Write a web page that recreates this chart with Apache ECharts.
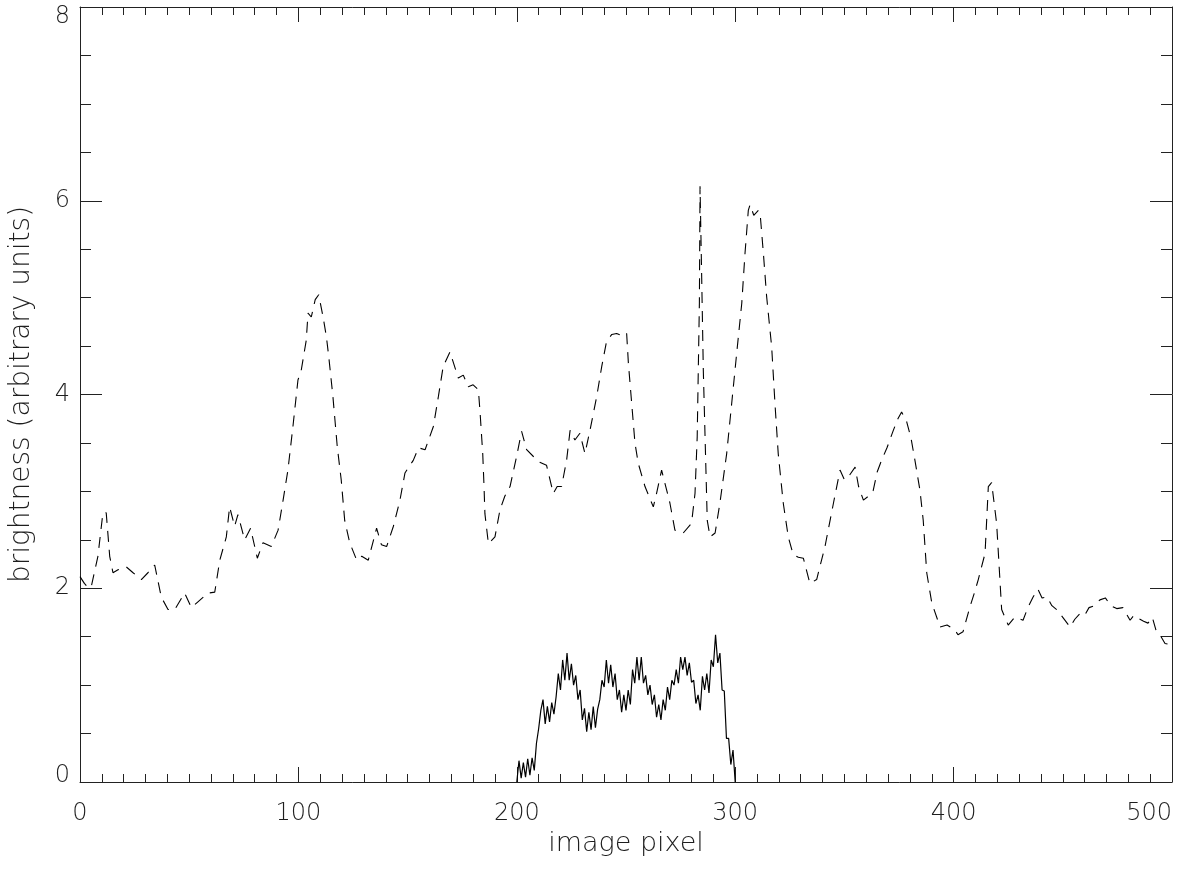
<!DOCTYPE html>
<html>
<head>
<meta charset="utf-8">
<script src="https://cdn.jsdelivr.net/npm/echarts@6/dist/echarts.min.js"></script>
<style>html,body{margin:0;padding:0;background:#fff;}#chart{width:1200px;height:869px;}</style>
</head>
<body>
<div id="chart"></div>
<script>
// Dashed profile (image pixel, brightness)
var dashX = [0,2,4,5.2,8.2,10.5,12,13.6,15.1,17.4,21.2,24.3,28.1,31.1,34.2,37.2,40.3,43.4,47.9,51,54,58.6,61.7,64,67,68.5,70.8,72.3,75.4,78.1,81.2,83.8,87.6,90.7,93,95.2,97.5,99.8,101.3,103.6,104.4,105.9,107.7,109.3,111.3,112.8,113.9,115.8,117.8,119.6,121.2,123.5,126.7,129,132,135.8,138,140.4,143.5,146.5,148.8,150.5,152.6,155,158,161.8,164.1,166.3,169.4,173.2,175.5,177.8,180,182.4,183.2,184.4,185,185.4,187,190,192.3,194.5,196.9,199.9,202.2,204.5,207.6,210.5,213.6,216.7,218.5,220.5,222.8,224.4,226.6,228.9,231.2,233.5,236.6,238.9,241.1,243.5,245.7,248.7,250.3,251.1,252.6,254.1,255.6,258.7,262.5,264,266.3,270.1,272.4,276.2,280,281.6,282.6,283.1,283.6,283.9,284.6,285.4,286.6,287.2,288.5,290.8,293,296.1,298.4,300.7,303,304.5,306,306.8,308.5,310.6,311.4,312.9,314.4,316.7,318.2,319.7,322,324.3,326.5,328.9,331.2,334.2,337.3,341.1,345,348,350,351.8,354.9,356.5,358.7,361,363.2,365,367,369.5,372.4,374.5,376.2,378.5,380.5,382.3,384.6,386.1,387.7,390,393.8,397,400.6,402,404.3,407.5,409.5,411.3,414.4,415.9,417.4,419.7,421.2,422,425,428,431.8,434,436.4,438.6,440.5,442.8,445,447.2,450,453.3,455.5,457.9,460,462,464.5,467,469.5,472,474.7,477.5,480.8,482.5,484.4,487,489,491,493,495,496.8,499];
var dashY = [2.12,2.05,2.0,2.02,2.33,2.78,2.78,2.33,2.16,2.19,2.22,2.16,2.09,2.16,2.24,1.91,1.78,1.78,1.95,1.8,1.86,1.95,1.96,2.29,2.53,2.84,2.64,2.76,2.5,2.62,2.31,2.47,2.43,2.6,2.91,3.22,3.67,4.15,4.25,4.56,4.84,4.8,4.98,5.03,4.8,4.6,4.39,3.98,3.46,3.12,2.7,2.47,2.29,2.33,2.29,2.62,2.45,2.43,2.64,2.91,3.19,3.25,3.32,3.45,3.43,3.67,3.98,4.29,4.44,4.17,4.2,4.08,4.1,4.05,3.81,3.39,3.05,2.77,2.46,2.53,2.81,2.95,3.05,3.36,3.62,3.43,3.36,3.3,3.27,2.98,3.05,3.05,3.32,3.63,3.53,3.6,3.39,3.63,3.98,4.29,4.55,4.62,4.63,4.6,4.63,4.32,3.91,3.5,3.29,3.05,2.84,2.98,3.22,2.88,2.6,2.57,2.67,2.98,3.56,4.25,4.94,6.15,5.28,4.25,3.22,2.7,2.53,2.57,2.88,3.39,3.91,4.43,4.94,5.46,5.9,5.96,5.85,5.9,5.87,5.46,5.01,4.49,3.91,3.39,2.88,2.53,2.35,2.32,2.31,2.05,2.09,2.43,2.88,3.22,3.12,3.15,3.25,3.05,2.91,2.95,3.01,3.2,3.32,3.45,3.63,3.75,3.82,3.72,3.55,3.32,3.01,2.7,2.16,1.85,1.6,1.62,1.57,1.52,1.55,1.81,1.95,2.09,2.36,3.05,3.09,2.67,2.09,1.78,1.62,1.7,1.67,1.8,1.91,1.99,1.9,1.91,1.82,1.78,1.7,1.6,1.68,1.74,1.72,1.8,1.82,1.88,1.9,1.82,1.79,1.8,1.67,1.72,1.69,1.66,1.64,1.7,1.54,1.5,1.43,1.42];

// Solid profile (image pixels 200..300)
var solidX = [200,201,202,203,204,205,206,207,208,209,210,211,212,213,214,215,216,217,218,219,220,221,222,223,224,225,226,227,228,229,230,231,232,233,234,235,236,237,238,239,240,241,242,243,244,245,246,247,248,249,250,251,252,253,254,255,256,257,258,259,260,261,262,263,264,265,266,267,268,269,270,271,272,273,274,275,276,277,278,279,280,281,282,283,284,285,286,287,288,289,290,291,292,293,294,295,296,297,298,299,300];
var solidY = [0.0,0.22,0.04,0.2,0.05,0.24,0.07,0.25,0.12,0.4,0.55,0.74,0.85,0.6,0.78,0.62,0.82,0.7,0.88,1.12,0.95,1.26,1.05,1.33,1.05,1.22,1.0,1.1,0.85,0.95,0.64,0.76,0.52,0.72,0.54,0.78,0.56,0.75,0.85,1.05,0.98,1.26,1.02,1.21,0.98,1.12,0.85,0.95,0.72,0.9,0.74,0.95,0.8,1.16,1.02,1.29,1.05,1.29,1.02,1.1,0.9,1.0,0.8,0.9,0.67,0.8,0.64,0.85,0.74,0.98,0.85,1.05,1.0,1.16,1.02,1.29,1.16,1.29,1.1,1.23,1.03,1.05,0.81,0.9,0.74,1.09,0.95,1.12,0.92,1.26,1.19,1.52,1.23,1.33,0.95,0.94,0.45,0.45,0.18,0.33,0.0];

var xTitle = 'image pixel';
var yTitle = 'brightness (arbitrary units)';

function pairs(xs, ys) { return xs.map(function (x, i) { return [x, ys[i]]; }); }

var axisColor = '#222';
var textColor = '#1e1e1e';
var font = 'DejaVu Sans';
var chart = echarts.init(document.getElementById('chart'), null, {renderer: 'canvas'});

function xAx(pos, showLabel) {
  return {
    type: 'value', position: pos, min: 0, max: 500, interval: 100,
    name: showLabel ? xTitle : '', nameLocation: 'middle', nameGap: 47,
    nameTextStyle: {fontFamily: font, fontSize: 27, fontWeight: 200, color: textColor},
    axisLine: {show: true, onZero: false, lineStyle: {color: axisColor, width: 1}},
    axisTick: {show: true, inside: true, length: 15, lineStyle: {color: axisColor}},
    minorTick: {show: true, splitNumber: 10, length: 8, lineStyle: {color: axisColor}},
    splitLine: {show: false}, minorSplitLine: {show: false},
    axisLabel: {show: showLabel, margin: 20, fontFamily: font, fontSize: 24, fontWeight: 200, color: textColor,
      alignMaxLabel: 'right'}
  };
}
function yAx(pos, showLabel) {
  var rs = {fontFamily: font, fontSize: 24, fontWeight: 200, color: textColor};
  return {
    type: 'value', position: pos, min: 0, max: 8, interval: 2,
    name: showLabel ? yTitle : '', nameLocation: 'middle', nameGap: 44, nameRotate: 90,
    nameTextStyle: {fontFamily: font, fontSize: 28, fontWeight: 200, color: textColor},
    axisLine: {show: true, onZero: false, lineStyle: {color: axisColor, width: 1}},
    axisTick: {show: true, inside: true, length: 22, lineStyle: {color: axisColor}},
    minorTick: {show: true, splitNumber: 4, length: 11, lineStyle: {color: axisColor}},
    splitLine: {show: false}, minorSplitLine: {show: false},
    axisLabel: {show: showLabel, margin: 10, fontFamily: font, fontSize: 24, fontWeight: 200, color: textColor,
      verticalAlignMinLabel: 'bottom', verticalAlignMaxLabel: 'top',
      formatter: function (v) { return v === 0 ? '{lo|0}' : (v === 8 ? '{hi|8}' : String(v)); },
      rich: {
        lo: Object.assign({lineHeight: 12}, rs),
        hi: Object.assign({lineHeight: 20}, rs)
      }}
  };
}

chart.setOption({
  backgroundColor: '#ffffff',
  animation: false,
  grid: {left: 80, right: 28, top: 7, bottom: 87, containLabel: false, outerBoundsMode: 'none'},
  xAxis: [xAx('bottom', true), xAx('top', false)],
  yAxis: [yAx('left', true), yAx('right', false)],
  series: [
    {type: 'line', xAxisIndex: 0, yAxisIndex: 0, data: pairs(dashX, dashY), showSymbol: false,
      lineStyle: {color: '#000', width: 1.1, type: [11, 8]}},
    {type: 'line', xAxisIndex: 0, yAxisIndex: 0, data: pairs(solidX, solidY), showSymbol: false,
      lineStyle: {color: '#000', width: 1.2, type: 'solid'}}
  ]
});
</script>
</body>
</html>
